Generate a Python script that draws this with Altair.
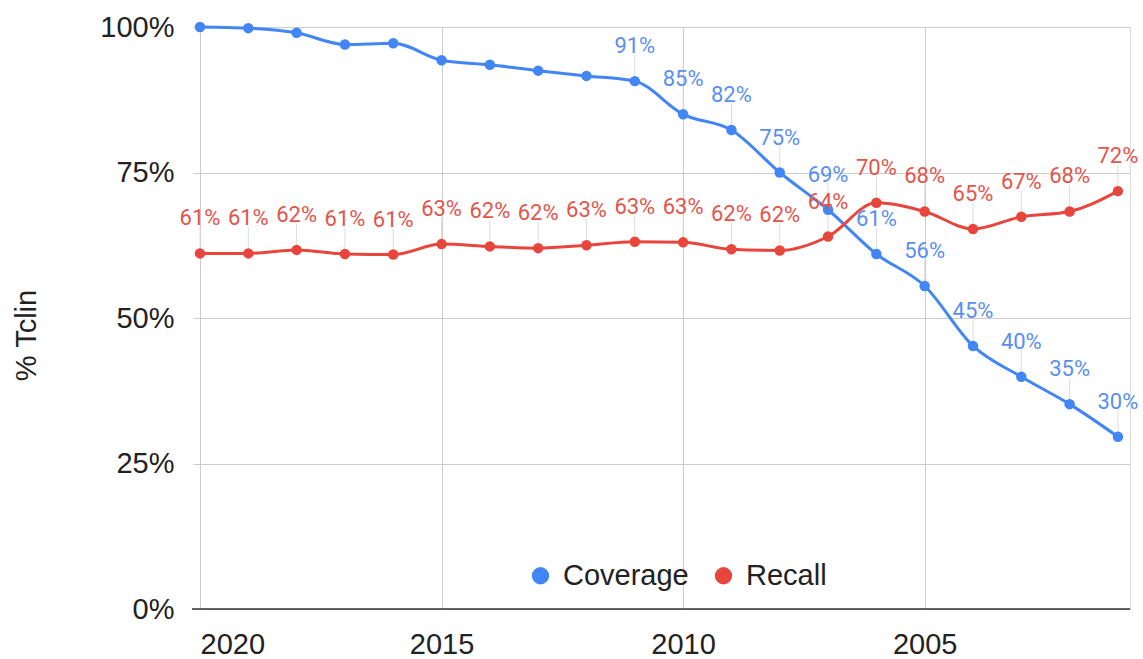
import altair as alt
import pandas as pd

years = list(range(2020, 2000, -1))
coverage = [100, 99.8, 99.0, 97.0, 97.2, 94.3, 93.5, 92.5, 91.6, 90.7,
            85.0, 82.3, 75.0, 68.6, 61.0, 55.5, 45.2, 39.9, 35.2, 29.6]
recall = [61.1, 61.1, 61.7, 61.0, 60.9, 62.7, 62.3, 62.0, 62.5, 63.1,
          63.0, 61.8, 61.6, 64.0, 69.8, 68.3, 65.3, 67.4, 68.3, 71.8]
series_names = ["Coverage", "Recall"]
series_colors = ["#4285F4", "#E8453C"]
label_colors = ["#5A8FEE", "#E2554B"]
x_ticks = [2020, 2015, 2010, 2005]
y_ticks = [0, 0.25, 0.5, 0.75, 1.0]
coverage_first_labelled_year = 2011

rows = []
for y, c, r in zip(years, coverage, recall):
    rows.append({"year": y, "series": "Coverage", "value": c / 100,
                 "labelled": y <= coverage_first_labelled_year})
    rows.append({"year": y, "series": "Recall", "value": r / 100, "labelled": True})
df = pd.DataFrame(rows)

FONT = "Liberation Sans"
W, H = 930, 582
xscale = alt.Scale(domain=[2020, 2000.75], nice=False, zero=False)
yscale = alt.Scale(domain=[0, 1], nice=False)
cscale = alt.Scale(domain=series_names, range=series_colors)

base = alt.Chart(df)

x_enc = alt.X("year:Q", scale=xscale,
              axis=alt.Axis(values=x_ticks, format="d", title=None, grid=True,
                            gridColor="#cccccc", domain=False, ticks=False,
                            labelFontSize=29, labelFont=FONT,
                            labelColor="#222222", labelPadding=21))
y_enc = alt.Y("value:Q", scale=yscale,
              axis=alt.Axis(values=y_ticks, format="%", title="% Tclin", grid=True,
                            gridColor="#cccccc", domain=False, tickSize=7,
                            tickColor="#cccccc", labelFontSize=29,
                            labelFont=FONT, labelColor="#222222",
                            labelPadding=19, titleFontSize=29, titleFontWeight="normal",
                            titleFont=FONT, titleColor="#222222",
                            titleX=-174, titleY=308, titleBaseline="middle",
                            titleAlign="center"))

leaders = base.transform_filter("datum.labelled").transform_calculate(
    top="datum.value + 0.045"
).mark_rule(color="#dddddd", strokeWidth=1).encode(
    x=alt.X("year:Q", scale=xscale), y=alt.Y("value:Q", scale=yscale), y2="top:Q"
)

lines = base.mark_line(strokeWidth=3, interpolate="monotone").encode(
    x=x_enc, y=y_enc, color=alt.Color("series:N", scale=cscale, legend=None)
)
points = base.mark_point(filled=True, size=110, opacity=1).encode(
    x=alt.X("year:Q", scale=xscale), y=alt.Y("value:Q", scale=yscale),
    color=alt.Color("series:N", scale=cscale,
                    legend=alt.Legend(title=None, orient="none", legendX=326, legendY=534,
                                      direction="horizontal", symbolType="circle",
                                      symbolSize=300, labelFontSize=29, labelFont=FONT,
                                      labelColor="#222222", columnPadding=20, labelOffset=8,
                                      padding=0, symbolStrokeWidth=0, symbolOpacity=1))
)
labels = base.transform_filter("datum.labelled").mark_text(
    dy=-35, fontSize=22, font="Roboto", baseline="middle", align="center"
).encode(
    x=alt.X("year:Q", scale=xscale), y=alt.Y("value:Q", scale=yscale),
    text=alt.Text("value:Q", format=".0%"),
    color=alt.Color("series:N", scale=alt.Scale(domain=series_names, range=label_colors), legend=None)
)

baseline = alt.Chart(pd.DataFrame({"v": [0]})).mark_rule(color="#333333", strokeWidth=1.5).encode(
    y=alt.Y("v:Q", scale=yscale), x=alt.value(-8), x2=alt.value(W)
)

chart = alt.layer(leaders, lines, points, labels, baseline).resolve_scale(
    color="independent"
).properties(
    width=W, height=H,
    autosize=alt.AutoSizeParams(type="none"),
    padding={"left": 200, "top": 27, "right": 13, "bottom": 50},
).configure_view(stroke=None).configure(background="white")

chart.save("out.html", embed_options={"renderer": "svg", "actions": False})
